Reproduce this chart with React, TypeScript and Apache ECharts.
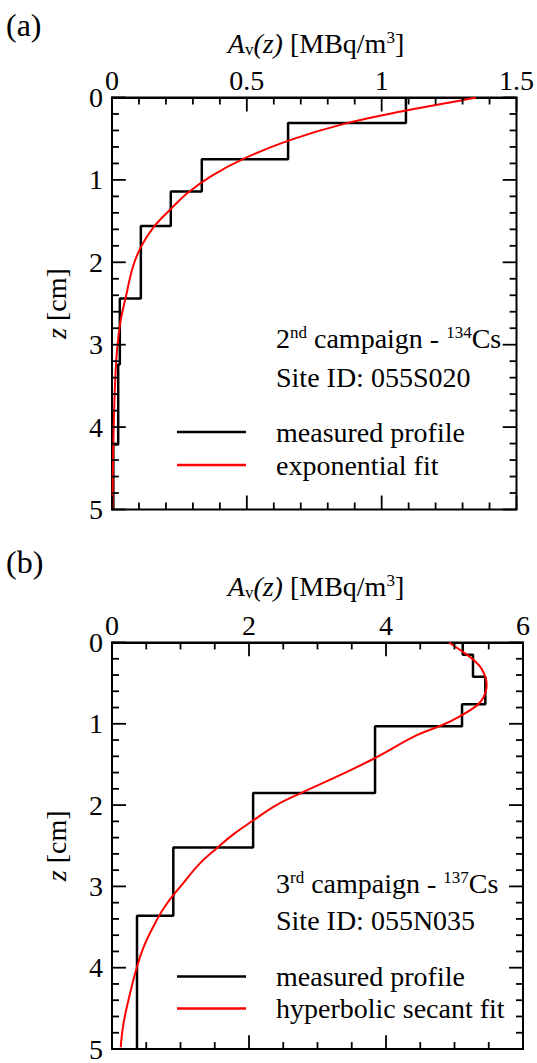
import React, { useEffect, useRef } from "react";
import * as echarts from "echarts";

// Panel (a): 2nd campaign, 134Cs, site 055S020
const layerBoundsA = [0, 0.31, 0.75, 1.14, 1.56, 2.44, 3.24, 4.21, 5.0];
const layerValuesA = [1.09, 0.653, 0.333, 0.218, 0.107, 0.029, 0.023, 0.005];
const fitDepthA = [0, 0.04, 0.155, 0.317, 0.52, 0.745, 0.96, 1.16, 1.35, 1.57, 1.81, 2.05, 2.41, 2.73, 3.1, 3.42, 3.8, 4.2, 4.6, 5.0];
const fitValueA = [1.35, 1.29, 1.095, 0.864, 0.657, 0.487, 0.365, 0.28, 0.219, 0.155, 0.108, 0.078, 0.052, 0.031, 0.018, 0.012, 0.008, 0.005, 0.003, 0.002];

// Panel (b): 3rd campaign, 137Cs, site 055N035
const layerBoundsB = [0, 0.15, 0.42, 0.76, 1.03, 1.85, 2.52, 3.36, 5.0];
const layerValuesB = [5.12, 5.27, 5.45, 5.11, 3.84, 2.06, 0.895, 0.365];
const fitDepthB = [0, 0.12, 0.21, 0.33, 0.52, 0.68, 0.78, 0.94, 1.02, 1.14, 1.43, 1.65, 1.84, 2.0, 2.19, 2.36, 2.53, 2.72, 2.96, 3.25, 3.5, 3.75, 4.0, 4.4, 4.7, 4.98];
const fitValueB = [4.92, 5.13, 5.27, 5.4, 5.47, 5.42, 5.32, 5.01, 4.81, 4.45, 3.82, 3.28, 2.79, 2.4, 2.06, 1.77, 1.53, 1.28, 1.04, 0.77, 0.6, 0.46, 0.36, 0.24, 0.165, 0.127];

// axis scales: min, max, major interval, minor subdivisions
const xTicksA = { min: 0, max: 1.5, interval: 0.5, minor: 5 };
const xTicksB = { min: 0, max: 6, interval: 2, minor: 4 };
const zTicks = { min: 0, max: 5, interval: 1, minor: 5 };

const FONT = "'Liberation Serif', 'Times New Roman', serif";

const GRID_W = 411;
const GRID_H = 412;

function stepPoints(bounds: number[], values: number[]) {
  const pts: number[][] = [];
  values.forEach((v, i) => {
    pts.push([v, bounds[i]]);
    pts.push([v, bounds[i + 1]]);
  });
  return pts;
}

function zip(xs: number[], zs: number[]) {
  return zs.map((z, i) => [xs[i], z]);
}

function tickValues(t: any) {
  const out: { v: number; major: boolean }[] = [];
  const step = t.interval / t.minor;
  const n = Math.round((t.max - t.min) / step);
  for (let i = 0; i <= n; i++) out.push({ v: +(t.min + i * step).toFixed(6), major: i % t.minor === 0 });
  return out;
}

// inward tick segments on all four sides of a panel, in data units
function tickSegments(tx: any) {
  const segs: number[][][] = [];
  const zPerPx = (zTicks.max - zTicks.min) / GRID_H;
  const xPerPx = (tx.max - tx.min) / GRID_W;
  tickValues(tx).forEach(({ v, major }) => {
    const l = (major ? 14 : 7) * zPerPx;
    segs.push([[v, zTicks.min], [v, zTicks.min + l]]);
    segs.push([[v, zTicks.max], [v, zTicks.max - l]]);
  });
  tickValues(zTicks).forEach(({ v, major }) => {
    const l = (major ? 14 : 7) * xPerPx;
    segs.push([[tx.min, v], [tx.min + l, v]]);
    segs.push([[tx.max, v], [tx.max - l, v]]);
  });
  return segs;
}

export default function App() {
  const ref = useRef<HTMLDivElement>(null);
  useEffect(() => {
    if (!ref.current) return;
    const chart = echarts.init(ref.current, null, { renderer: "svg" });

    const labelStyle = () => ({ color: "#000", fontFamily: FONT, fontSize: 28 });

    const titleRich = () => ({
      text: "{i|A}{sub|v}{i|(z)} [MBq/m{sup|3}]",
      fill: "#000",
      fontFamily: FONT,
      fontSize: 28,
      align: "center",
      verticalAlign: "middle",
      rich: {
        i: { fontStyle: "italic", fontFamily: FONT, fontSize: 28 },
        sub: { fontFamily: FONT, fontSize: 17, verticalAlign: "bottom", padding: [12, 0, 0, 0] },
        sup: { fontFamily: FONT, fontSize: 17, verticalAlign: "top", padding: [0, 0, 12, 0] },
      },
    });

    const annRich = () => ({
      sup: { fontFamily: FONT, fontSize: 17, verticalAlign: "top", padding: [0, 0, 12, 0] },
    });

    const mkX = (grid: number, t: any) => ({
      type: "value",
      gridIndex: grid,
      position: "top",
      min: t.min,
      max: t.max,
      interval: t.interval,
      axisLine: { show: true, lineStyle: { color: "#000", width: 2 } },
      axisTick: { show: false },
      axisLabel: { ...labelStyle(), margin: 3 },
      splitLine: { show: false },
    });

    const mkY = (grid: number) => ({
      type: "value",
      gridIndex: grid,
      position: "left",
      inverse: true,
      min: zTicks.min,
      max: zTicks.max,
      interval: zTicks.interval,
      axisLine: { show: true, lineStyle: { color: "#000", width: 2 } },
      axisTick: { show: false },
      axisLabel: { ...labelStyle(), margin: 9 },
      splitLine: { show: false },
      name: "{i|z} [cm]",
      nameLocation: "middle",
      nameRotate: 90,
      nameGap: 42,
      nameTextStyle: {
        color: "#000",
        fontFamily: FONT,
        fontSize: 28,
        rich: { i: { fontStyle: "italic", fontFamily: FONT, fontSize: 28 } },
      },
    });

    // each tick drawn as its own two-point line series (same mechanism as the profiles)
    const tickSeries = (idx: number, tx: any) =>
      tickSegments(tx).map((seg) => ({
        type: "line",
        xAxisIndex: idx,
        yAxisIndex: idx,
        silent: true,
        symbol: "none",
        clip: false,
        z: 5,
        data: seg,
        lineStyle: { color: "#000", width: 1.8 },
        itemStyle: { color: "#000" },
        tooltip: { show: false },
      }));

    const legendText = () => ({ color: "#000", fontFamily: FONT, fontSize: 28, lineHeight: 28, padding: [0, 0, 0, 25] });
    const legendIcon = "path://M0,6 L69,6 L69,8.4 L0,8.4 Z";
    const frame = { show: true, borderColor: "#000", borderWidth: 2, backgroundColor: "transparent" };

    const option: any = {
      animation: false,
      backgroundColor: "#fff",
      grid: [
        { left: 112, top: 97.5, width: GRID_W, height: GRID_H, ...frame },
        { left: 112, top: 642.5, width: GRID_W, height: GRID_H, ...frame },
      ],
      xAxis: [mkX(0, xTicksA), mkX(1, xTicksB)],
      yAxis: [mkY(0), mkY(1)],
      legend: [
        {
          orient: "vertical",
          left: 172,
          top: 413,
          itemWidth: 69,
          itemHeight: 14,
          itemGap: 5,
          icon: legendIcon,
          data: ["measured profile", "exponential fit"],
          textStyle: legendText(),
          selectedMode: false,
        },
        {
          orient: "vertical",
          left: 172,
          top: 957.5,
          itemWidth: 69,
          itemHeight: 14,
          itemGap: 4,
          icon: legendIcon,
          data: ["measured profile ", "hyperbolic secant fit"],
          textStyle: legendText(),
          selectedMode: false,
        },
      ],
      series: [
        ...tickSeries(0, xTicksA),
        ...tickSeries(1, xTicksB),
        {
          name: "measured profile",
          type: "line",
          xAxisIndex: 0,
          yAxisIndex: 0,
          data: stepPoints(layerBoundsA, layerValuesA),
          symbol: "none",
          lineStyle: { color: "#000", width: 2.5 },
          itemStyle: { color: "#000" },
        },
        {
          name: "exponential fit",
          type: "line",
          xAxisIndex: 0,
          yAxisIndex: 0,
          data: zip(fitValueA, fitDepthA),
          symbol: "none",
          smooth: 0.4,
          lineStyle: { color: "#ff0000", width: 2 },
          itemStyle: { color: "#ff0000" },
        },
        {
          name: "measured profile ",
          type: "line",
          xAxisIndex: 1,
          yAxisIndex: 1,
          data: stepPoints(layerBoundsB, layerValuesB),
          symbol: "none",
          lineStyle: { color: "#000", width: 2.5 },
          itemStyle: { color: "#000" },
        },
        {
          name: "hyperbolic secant fit",
          type: "line",
          xAxisIndex: 1,
          yAxisIndex: 1,
          data: zip(fitValueB, fitDepthB),
          symbol: "none",
          smooth: 0.4,
          lineStyle: { color: "#ff0000", width: 2 },
          itemStyle: { color: "#ff0000" },
        },
      ],
      graphic: [
        { type: "text", left: 6, top: 9, style: { text: "(a)", fill: "#000", fontFamily: FONT, fontSize: 32 } },
        { type: "text", left: 6, top: 546, style: { text: "(b)", fill: "#000", fontFamily: FONT, fontSize: 32 } },
        { type: "text", x: 316, y: 43, style: titleRich() },
        { type: "text", x: 316, y: 586, style: titleRich() },
        {
          type: "text",
          x: 276,
          y: 338,
          style: {
            text: "2{sup|nd} campaign - {sup|134}Cs",
            fill: "#000",
            fontFamily: FONT,
            fontSize: 28,
            verticalAlign: "middle",
            rich: annRich(),
          },
        },
        {
          type: "text",
          x: 276,
          y: 377,
          style: { text: "Site ID: 055S020", fill: "#000", fontFamily: FONT, fontSize: 28, verticalAlign: "middle" },
        },
        {
          type: "text",
          x: 276,
          y: 883,
          style: {
            text: "3{sup|rd} campaign - {sup|137}Cs",
            fill: "#000",
            fontFamily: FONT,
            fontSize: 28,
            verticalAlign: "middle",
            rich: annRich(),
          },
        },
        {
          type: "text",
          x: 276,
          y: 920,
          style: { text: "Site ID: 055N035", fill: "#000", fontFamily: FONT, fontSize: 28, verticalAlign: "middle" },
        },
      ],
    };
    chart.setOption(option);
    return () => chart.dispose();
  }, []);

  return (
    <div
      ref={ref}
      style={{ position: "absolute", left: 0, top: 0, width: 537, height: 1063, background: "#fff" }}
    />
  );
}
